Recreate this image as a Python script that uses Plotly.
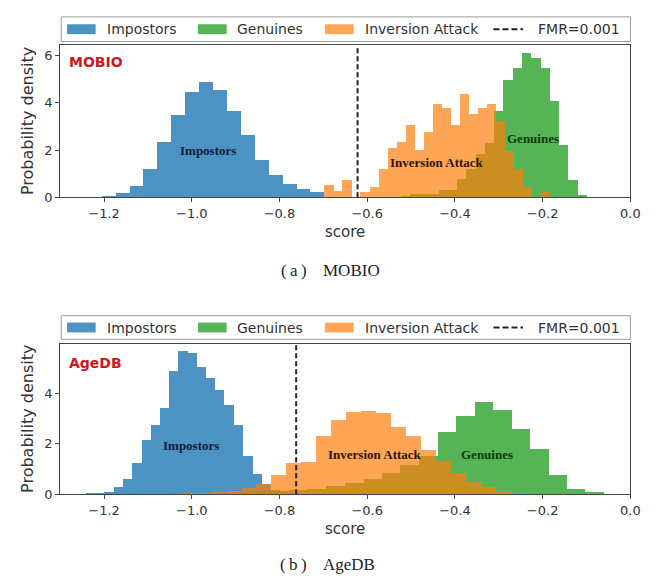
import plotly.graph_objects as go

# ---------------- data ----------------
series_names = ["Impostors", "Genuines", "Inversion Attack"]
threshold_label = "FMR=0.001"
panel_names = ["MOBIO", "AgeDB"]
caption_tags = ["(\u2009a\u2009)", "(\u2009b\u2009)"]

x_ticks = [-1.2, -1.0, -0.8, -0.6, -0.4, -0.2, 0.0]
mobio_y_ticks = [0, 2, 4, 6]
agedb_y_ticks = [0, 2, 4]

# MOBIO (bin left edges, last bin width, densities)
mobio_imp_left = [-1.205, -1.173, -1.141, -1.110, -1.078, -1.046, -1.014, -0.983,
                  -0.951, -0.919, -0.887, -0.856, -0.824, -0.792, -0.760, -0.729]
mobio_imp_width = 0.0318
mobio_imp_density = [0.05, 0.18, 0.46, 1.19, 2.31, 3.44, 4.42, 4.85,
                     4.53, 3.63, 2.61, 1.57, 0.92, 0.55, 0.35, 0.20]

mobio_gen_left = [-0.522, -0.501, -0.479, -0.458, -0.437, -0.416, -0.395, -0.374,
                  -0.352, -0.331, -0.310, -0.289, -0.268, -0.247, -0.226, -0.204,
                  -0.183, -0.162, -0.141, -0.119]
mobio_gen_width = 0.0212
mobio_gen_density = [0.05, 0.11, 0.11, 0.11, 0.29, 0.29, 0.75, 1.19,
                     1.82, 2.28, 3.63, 4.94, 5.43, 6.08, 5.85, 5.43,
                     4.07, 2.21, 0.71, 0.08]

mobio_inv_left = [-0.697, -0.676, -0.656, -0.635, -0.615, -0.594, -0.573, -0.553,
                  -0.532, -0.512, -0.491, -0.470, -0.450, -0.429, -0.409, -0.388,
                  -0.367, -0.347, -0.326, -0.306, -0.285, -0.264, -0.244, -0.223,
                  -0.203]
mobio_inv_width = 0.0206
mobio_inv_density = [0.50, 0.24, 0.71, 0.00, 0.22, 0.43, 1.19, 2.07,
                     2.30, 3.02, 2.00, 2.75, 3.93, 3.75, 3.05, 4.36,
                     3.49, 3.76, 3.93, 3.20, 1.96, 1.19, 0.43, 0.00,
                     0.20]
mobio_fmr = -0.622

# AgeDB
agedb_imp_left = [-1.241, -1.220, -1.199, -1.178, -1.157, -1.136, -1.114, -1.093,
                  -1.072, -1.051, -1.030, -1.009, -0.988, -0.967, -0.946, -0.925,
                  -0.903, -0.882, -0.861, -0.840, -0.819]
agedb_imp_width = 0.0211
agedb_imp_density = [0.04, 0.03, 0.08, 0.26, 0.59, 1.24, 2.16, 2.75,
                     3.40, 4.90, 5.69, 5.62, 5.03, 4.60, 4.12, 3.53,
                     2.75, 1.50, 0.78, 0.40, 0.15]

agedb_gen_left = [-0.990, -0.948, -0.905, -0.863, -0.820, -0.778, -0.736, -0.693,
                  -0.651, -0.608, -0.566, -0.524, -0.481, -0.439, -0.396, -0.353,
                  -0.312, -0.270, -0.228, -0.186, -0.143, -0.102]
agedb_gen_width = 0.0424
agedb_gen_density = [0.02, 0.04, 0.06, 0.10, 0.13, 0.15, 0.20, 0.30,
                     0.45, 0.60, 0.85, 1.15, 1.50, 2.45, 3.10, 3.64,
                     3.35, 2.60, 1.79, 0.76, 0.20, 0.07]

agedb_inv_left = [-1.022, -0.988, -0.954, -0.920, -0.886, -0.852, -0.818, -0.784,
                  -0.750, -0.716, -0.682, -0.648, -0.613, -0.579, -0.545, -0.511,
                  -0.477, -0.443, -0.409, -0.375, -0.341, -0.307, -0.272]
agedb_inv_width = 0.0341
agedb_inv_density = [0.02, 0.04, 0.08, 0.13, 0.22, 0.40, 0.77, 1.22,
                     1.25, 2.31, 2.94, 3.27, 3.31, 3.23, 2.65, 2.30,
                     1.76, 1.30, 0.85, 0.46, 0.26, 0.13, 0.05]
agedb_fmr = -0.762

# in-plot label positions (score, density)
mobio_label_pos = [(-0.964, 1.96), (-0.222, 2.47), (-0.440, 1.47)]
agedb_label_pos = [(-1.001, 1.92), (-0.326, 1.57), (-0.583, 1.57)]

# ---------------- style ----------------
W, H = 656, 578
fills = ["rgba(31,119,180,0.8)", "rgba(44,160,44,0.8)", "rgba(255,127,14,0.7)"]
label_colors = ["#0f1a3a", "#0b3a0b", "#2a1500"]
AX = "#444444"
TXT = "#333333"
SANS = "DejaVu Sans, Verdana, sans-serif"
SERIF = "Liberation Serif, Times New Roman, serif"


def px(x):
    return x / W


def py(y):
    return 1 - y / H


def bar_geometry(left, last_width):
    widths = [left[i + 1] - left[i] for i in range(len(left) - 1)] + [last_width]
    centers = [l + w / 2 for l, w in zip(left, widths)]
    return centers, widths


# panel geometry in pixels: (frame top, frame bottom, legend top, legend bottom)
panels_px = [(38, 192, 9, 34), (341, 493, 312, 336)]
x_left, x_right = 53, 632
caption_y = [266, 564]
name_y = [55, 360]

panel_data = [
    dict(hists=[(mobio_imp_left, mobio_imp_width, mobio_imp_density),
                (mobio_gen_left, mobio_gen_width, mobio_gen_density),
                (mobio_inv_left, mobio_inv_width, mobio_inv_density)],
         fmr=mobio_fmr, yticks=mobio_y_ticks, ymax=6.42, labels=mobio_label_pos),
    dict(hists=[(agedb_imp_left, agedb_imp_width, agedb_imp_density),
                (agedb_gen_left, agedb_gen_width, agedb_gen_density),
                (agedb_inv_left, agedb_inv_width, agedb_inv_density)],
         fmr=agedb_fmr, yticks=agedb_y_ticks, ymax=5.96, labels=agedb_label_pos),
]

fig = go.Figure()
shapes = []
annotations = []
layout_axes = {}

for p, (pdat, (ft, fb, lt, lb)) in enumerate(zip(panel_data, panels_px)):
    sfx = "" if p == 0 else str(p + 1)
    xref, yref = "x" + sfx, "y" + sfx
    for i, (left, w, dens) in enumerate(pdat["hists"]):
        centers, widths = bar_geometry(left, w)
        fig.add_trace(go.Bar(
            x=centers, y=dens, width=widths,
            marker=dict(color=fills[i], line=dict(width=0)),
            name=series_names[i], showlegend=False,
            xaxis=xref, yaxis=yref, hoverinfo="x+y"))
    layout_axes["xaxis" + sfx] = dict(
        domain=[px(x_left), px(x_right)], range=[-1.3, 0.0], anchor=yref,
        tickvals=x_ticks, tickformat=".1f", ticks="outside", ticklen=4,
        tickcolor=AX, showline=True, linecolor=AX, linewidth=1, mirror=True,
        showgrid=False, zeroline=False,
        tickfont=dict(family=SANS, size=13, color=TXT))
    layout_axes["yaxis" + sfx] = dict(
        domain=[py(fb), py(ft)], range=[0, pdat["ymax"]], anchor=xref,
        tickvals=pdat["yticks"], ticks="outside", ticklen=4, tickcolor=AX,
        showline=True, linecolor=AX, linewidth=1, mirror=True,
        showgrid=False, zeroline=False,
        tickfont=dict(family=SANS, size=13, color=TXT))
    # threshold line
    shapes.append(dict(type="line", xref=xref, yref=yref + " domain",
                       x0=pdat["fmr"], x1=pdat["fmr"], y0=0, y1=1,
                       line=dict(color="#222222", width=2, dash="5px,3px")))
    # in-plot labels
    for i, (lx, ly) in enumerate(pdat["labels"]):
        annotations.append(dict(x=lx, y=ly, xref=xref, yref=yref,
                                text="<b>%s</b>" % series_names[i], showarrow=False,
                                font=dict(family=SERIF, size=13, color=label_colors[i])))
    # panel name
    annotations.append(dict(x=px(60), y=py(name_y[p]), xref="paper", yref="paper",
                            xanchor="left", yanchor="middle", showarrow=False,
                            text="<b>%s</b>" % panel_names[p],
                            font=dict(family=SANS, size=14, color="#d0161b")))
    # axis titles
    annotations.append(dict(x=px((x_left + x_right) / 2), y=py(fb + 35), xref="paper",
                            yref="paper", showarrow=False, text="score", yanchor="middle",
                            font=dict(family=SANS, size=15, color=TXT)))
    annotations.append(dict(x=px(20), y=py((ft + fb) / 2), xref="paper", yref="paper",
                            showarrow=False, text="Probability density", textangle=-90,
                            xanchor="center", yanchor="middle",
                            font=dict(family=SANS, size=16, color=TXT)))
    # legend box
    shapes.append(dict(type="rect", xref="paper", yref="paper",
                       x0=px(x_left + 1), x1=px(x_right), y0=py(lb), y1=py(lt),
                       line=dict(color="#9a9a9a", width=1), fillcolor="white"))
    lc = (lt + lb) / 2
    patch_x = [60, 193, 322]
    text_x = [98, 231, 360]
    for i in range(3):
        shapes.append(dict(type="rect", xref="paper", yref="paper",
                           x0=px(patch_x[i]), x1=px(patch_x[i] + 29),
                           y0=py(lc + 5), y1=py(lc - 5),
                           line=dict(width=0), fillcolor=fills[i]))
        annotations.append(dict(x=px(text_x[i]), y=py(lc), xref="paper", yref="paper",
                                xanchor="left", yanchor="middle", showarrow=False,
                                text=series_names[i],
                                font=dict(family=SANS, size=14, color=TXT)))
    shapes.append(dict(type="line", xref="paper", yref="paper",
                       x0=px(493), x1=px(523), y0=py(lc), y1=py(lc),
                       line=dict(color="#222222", width=2, dash="6px,3px")))
    annotations.append(dict(x=px(536), y=py(lc), xref="paper", yref="paper",
                            xanchor="left", yanchor="middle", showarrow=False,
                            text=threshold_label,
                            font=dict(family=SANS, size=14, color=TXT)))
    # caption
    annotations.append(dict(x=px(290), y=py(caption_y[p]), xref="paper", yref="paper",
                            xanchor="center", yanchor="middle", showarrow=False,
                            text=caption_tags[p],
                            font=dict(family=SERIF, size=17, color="#222222")))
    annotations.append(dict(x=px(318), y=py(caption_y[p]), xref="paper", yref="paper",
                            xanchor="left", yanchor="middle", showarrow=False,
                            text=panel_names[p],
                            font=dict(family=SERIF, size=17, color="#222222")))

fig.update_layout(
    width=W, height=H, margin=dict(l=0, r=0, t=0, b=0),
    paper_bgcolor="white", plot_bgcolor="white",
    barmode="overlay", bargap=0, showlegend=False,
    shapes=shapes, annotations=annotations, **layout_axes)

fig.write_html("out.html")
